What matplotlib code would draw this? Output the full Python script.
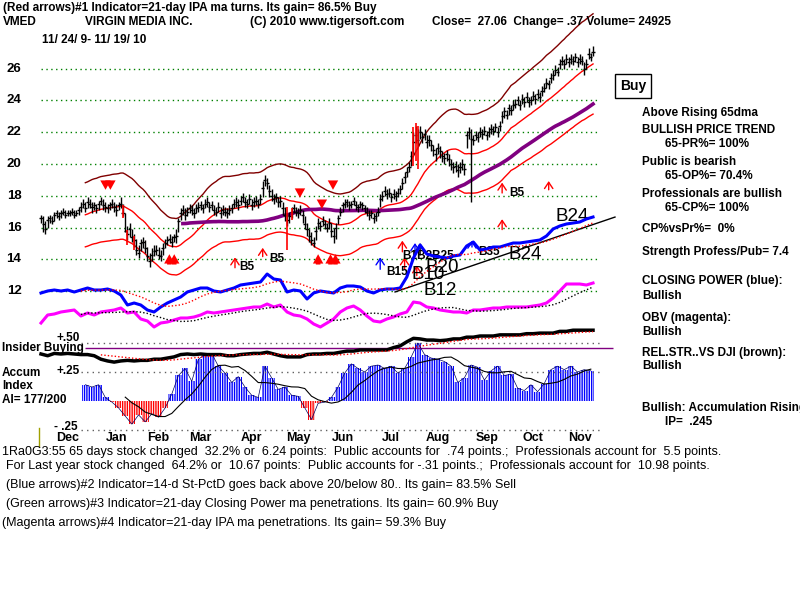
import matplotlib
matplotlib.use("Agg")
import matplotlib.pyplot as plt
import matplotlib.transforms as mtransforms
from matplotlib.lines import Line2D
import numpy as np
import pandas as pd

# ---- VMED daily bars 11/24/09 - 11/19/10 (250 trading days) ----
closes = [
    16.6, 16.2, 15.9, 16.5, 16.6, 16.4, 16.8, 16.9, 16.7, 16.9,
    17.0, 16.8, 16.9, 16.9, 17.0, 16.8, 16.9, 17.1, 17.3, 17.5,
    17.2, 17.6, 17.5, 17.3, 17.4, 17.2, 17.5, 17.7, 17.4, 17.3,
    17.2, 17.4, 17.5, 17.3, 17.1, 17.4, 17.5, 16.9, 15.8, 15.6,
    15.9, 15.4, 15.2, 14.6, 14.4, 15.0, 15.1, 14.7, 14.2, 13.9,
    14.3, 14.5, 14.6, 14.3, 14.2, 14.7, 15.0, 15.2, 15.3, 15.1,
    15.4, 15.5, 16.4, 16.9, 17.1, 16.8, 17.0, 17.2, 17.1, 16.9,
    17.2, 17.3, 17.4, 17.2, 17.5, 17.6, 17.3, 17.4, 17.1, 17.0,
    17.3, 16.9, 17.1, 17.0, 16.9, 17.1, 17.2, 17.5, 17.6, 17.4,
    17.7, 17.9, 17.6, 17.5, 17.8, 17.4, 17.6, 17.7, 17.5, 17.8,
    18.5, 19.0, 18.8, 18.3, 18.0, 17.8, 17.9, 17.6, 17.7, 17.2,
    16.8, 16.5, 16.7, 17.0, 17.2, 17.0, 16.9, 17.1, 16.8, 16.2,
    15.9, 15.5, 15.2, 15.0, 15.8, 16.3, 16.1, 16.4, 16.2, 16.0,
    16.3, 15.8, 15.5, 16.0, 16.6, 17.0, 17.4, 17.5, 17.6, 17.4,
    17.5, 17.7, 17.4, 17.3, 17.5, 17.4, 17.2, 17.0, 16.8, 16.9,
    16.6, 16.7, 17.0, 17.8, 18.0, 18.3, 18.1, 18.2, 17.9, 18.1,
    18.0, 18.2, 18.4, 18.8, 19.2, 19.5, 19.8, 20.5, 21.4, 21.8,
    21.5, 22.0, 21.7, 21.9, 21.4, 21.5, 21.2, 20.9, 20.6, 21.0,
    20.8, 20.5, 20.4, 20.6, 20.3, 20.0, 19.8, 19.9, 19.6, 19.8,
    20.0, 19.7, 21.8, 22.0, 21.6, 21.5, 21.8, 21.7, 22.0, 21.9,
    22.1, 21.8, 22.0, 22.2, 22.1, 22.3, 22.0, 22.4, 23.0, 23.3,
    23.1, 23.5, 23.4, 23.7, 23.8, 24.0, 23.7, 24.1, 23.9, 24.2,
    23.9, 24.0, 24.3, 24.1, 24.4, 24.2, 24.6, 24.8, 25.1, 25.0,
    25.4, 25.6, 25.9, 25.8, 26.3, 26.5, 26.3, 26.6, 26.4, 26.6,
    26.5, 26.7, 26.4, 26.6, 26.5, 26.0, 26.3, 26.9, 26.7, 27.06,
]
highs = [
    16.8, 16.7, 16.4, 16.7, 16.8, 16.7, 17.0, 17.1, 17.0, 17.1,
    17.2, 17.1, 17.1, 17.1, 17.2, 17.1, 17.1, 17.3, 17.6, 17.8,
    17.6, 17.9, 17.8, 17.6, 17.6, 17.5, 17.7, 17.9, 17.8, 17.6,
    17.5, 17.6, 17.8, 17.6, 17.5, 17.6, 17.9, 17.5, 16.9, 16.1,
    16.3, 15.9, 15.6, 15.3, 14.9, 15.3, 15.4, 15.2, 14.8, 14.4,
    14.7, 14.9, 14.9, 14.8, 14.6, 15.0, 15.3, 15.5, 15.6, 15.5,
    15.6, 15.9, 16.6, 17.2, 17.4, 17.2, 17.3, 17.5, 17.4, 17.2,
    17.5, 17.6, 17.7, 17.5, 17.8, 17.9, 17.6, 17.7, 17.4, 17.3,
    17.6, 17.3, 17.4, 17.3, 17.2, 17.4, 17.5, 17.8, 17.9, 17.8,
    18.0, 18.2, 17.9, 17.8, 18.1, 17.8, 17.9, 18.0, 17.8, 18.1,
    18.9, 19.3, 19.1, 18.7, 18.4, 18.1, 18.2, 17.9, 18.0, 17.6,
    17.3, 16.9, 17.0, 17.3, 17.5, 17.3, 17.2, 17.4, 17.1, 16.7,
    16.3, 15.9, 15.7, 15.4, 16.1, 16.6, 16.4, 16.7, 16.5, 16.3,
    16.6, 16.3, 16.0, 16.3, 16.8, 17.3, 17.6, 17.8, 17.8, 17.7,
    17.7, 17.9, 17.7, 17.5, 17.7, 17.6, 17.4, 17.3, 17.1, 17.1,
    16.9, 17.0, 17.3, 18.1, 18.3, 18.6, 18.4, 18.5, 18.2, 18.4,
    18.3, 18.5, 18.7, 19.1, 19.5, 19.8, 20.1, 20.8, 22.0, 22.4,
    22.2, 22.4, 22.0, 22.2, 21.8, 21.8, 21.5, 21.2, 21.0, 21.3,
    21.1, 20.8, 20.7, 20.9, 20.6, 20.3, 20.1, 20.2, 20.0, 20.1,
    20.3, 20.0, 22.1, 22.3, 22.2, 21.8, 22.1, 22.0, 22.3, 22.2,
    22.4, 22.1, 22.3, 22.5, 22.4, 22.6, 22.3, 22.7, 23.3, 23.6,
    23.4, 23.8, 23.7, 24.0, 24.1, 24.3, 24.0, 24.4, 24.2, 24.5,
    24.2, 24.3, 24.6, 24.4, 24.7, 24.5, 24.9, 25.1, 25.4, 25.3,
    25.7, 25.9, 26.2, 26.1, 26.6, 26.8, 26.6, 26.9, 26.7, 26.9,
    26.8, 27.0, 26.7, 26.9, 26.8, 26.4, 26.6, 27.3, 27.0, 27.4,
]
lows = [
    16.3, 15.7, 15.6, 16.0, 16.3, 16.2, 16.4, 16.6, 16.5, 16.6,
    16.8, 16.6, 16.7, 16.7, 16.8, 16.6, 16.7, 16.8, 17.0, 17.2,
    17.0, 17.2, 17.2, 16.9, 17.1, 16.9, 17.1, 17.4, 17.1, 17.0,
    16.9, 17.1, 17.2, 17.0, 16.7, 17.1, 17.2, 16.7, 15.7, 15.2,
    15.4, 15.1, 14.8, 14.3, 14.1, 14.5, 14.7, 14.4, 13.9, 13.5,
    13.9, 14.2, 14.3, 14.0, 13.9, 14.3, 14.7, 14.9, 15.0, 14.8,
    15.1, 15.0, 15.7, 16.5, 16.8, 16.5, 16.7, 16.9, 16.8, 16.6,
    16.9, 17.0, 17.1, 16.9, 17.2, 17.3, 17.0, 17.1, 16.8, 16.7,
    17.0, 16.6, 16.8, 16.7, 16.6, 16.8, 16.9, 17.2, 17.3, 17.1,
    17.4, 17.6, 17.3, 17.2, 17.5, 17.1, 17.3, 17.4, 17.2, 17.5,
    17.9, 18.6, 18.4, 17.9, 17.7, 17.5, 17.6, 17.3, 17.3, 16.8,
    16.4, 16.1, 16.3, 16.6, 16.9, 16.7, 16.6, 16.8, 16.3, 15.9,
    15.5, 15.1, 14.9, 14.8, 15.2, 15.9, 15.8, 16.1, 15.9, 15.7,
    15.9, 15.4, 15.0, 15.3, 16.2, 16.7, 17.0, 17.2, 17.3, 17.1,
    17.2, 17.4, 17.1, 17.0, 17.2, 17.1, 16.9, 16.7, 16.5, 16.6,
    16.3, 16.4, 16.7, 17.3, 17.7, 18.0, 17.8, 17.9, 17.6, 17.8,
    17.7, 17.9, 18.1, 18.4, 18.8, 19.2, 19.5, 19.9, 20.6, 21.3,
    21.1, 21.6, 21.3, 21.5, 21.0, 21.1, 20.8, 20.5, 20.2, 20.6,
    20.4, 20.1, 20.0, 20.2, 19.9, 19.6, 19.4, 19.5, 19.2, 19.4,
    19.6, 19.3, 21.0, 21.6, 17.6, 21.2, 21.5, 21.4, 21.7, 21.6,
    21.8, 21.5, 21.7, 21.9, 21.8, 22.0, 21.7, 22.1, 22.6, 22.9,
    22.8, 23.1, 23.1, 23.4, 23.5, 23.7, 23.4, 23.8, 23.6, 23.9,
    23.6, 23.7, 24.0, 23.8, 24.1, 23.9, 24.3, 24.5, 24.8, 24.7,
    25.1, 25.3, 25.6, 25.5, 26.0, 26.2, 26.0, 26.3, 26.1, 26.3,
    26.2, 26.4, 26.1, 26.3, 26.2, 25.6, 26.0, 26.6, 26.5, 26.8,
]

# indicators sampled every 3rd trading day (arbitrary units)
step = 3
cp_vals = [
    0.7, 0.9, 1.0, 0.9, 1.0, 0.8, 1.0, 1.2, 1.0, 1.0,
    1.1, 0.9, 0.5, -0.5, -0.3, -0.5, -1.0, -1.2, -0.7, -0.3,
    0.0, 0.3, 0.8, 1.0, 1.2, 1.2, 0.9, 0.8, 1.0, 1.2,
    1.5, 1.6, 1.7, 1.8, 2.6, 2.1, 2.0, 0.8, 1.0, 0.9,
    0.1, 0.7, 0.9, 0.8, 0.7, 1.2, 1.4, 1.4, 1.3, 0.9,
    0.7, 1.0, 1.1, 1.1, 1.2, 2.3, 4.2, 5.5, 4.6, 4.4,
    4.3, 4.2, 4.4, 4.5, 5.4, 5.8, 5.0, 5.1, 5.3, 5.3,
    5.5, 5.7, 5.7, 5.8, 5.9, 6.0, 6.4, 7.1, 7.4, 7.6,
    7.7, 7.8, 8.1, 8.3,
]
obv_vals = [
    1.7, 2.5, 2.6, 2.8, 2.9, 3.0, 2.4, 2.7, 2.5, 2.8,
    2.9, 3.0, 3.2, 2.7, 2.8, 2.1, 1.9, 1.3, 1.7, 1.8,
    2.0, 2.2, 2.2, 2.3, 2.5, 2.8, 2.7, 2.8, 2.9, 3.0,
    3.1, 3.2, 3.3, 3.3, 3.6, 3.3, 3.5, 2.8, 2.5, 2.4,
    2.1, 1.6, 1.3, 1.7, 2.1, 2.8, 3.2, 3.4, 3.0, 2.4,
    1.9, 1.8, 2.1, 2.3, 2.6, 2.8, 3.8, 3.7, 3.3, 3.2,
    3.0, 2.9, 2.8, 2.8, 2.7, 3.0, 3.0, 3.1, 3.2, 3.2,
    3.3, 3.3, 3.3, 3.3, 3.4, 3.5, 3.7, 4.2, 4.9, 5.6,
    5.6, 5.6, 5.5, 5.7,
]
insider_vals = [
    0.405, 0.39, 0.41, 0.405, 0.41, 0.405, 0.40, 0.40, 0.39, 0.36,
    0.345, 0.335, 0.345, 0.35, 0.345, 0.35, 0.35, 0.36, 0.36, 0.37,
    0.38, 0.40, 0.405, 0.40, 0.405, 0.40, 0.40, 0.40, 0.39, 0.39,
    0.40, 0.405, 0.41, 0.41, 0.42, 0.405, 0.39, 0.38, 0.38, 0.38,
    0.40, 0.405, 0.405, 0.41, 0.41, 0.42, 0.43, 0.43, 0.44, 0.44,
    0.44, 0.44, 0.44, 0.46, 0.475, 0.51, 0.54, 0.535, 0.525, 0.525,
    0.52, 0.525, 0.535, 0.535, 0.55, 0.55, 0.56, 0.56, 0.56, 0.57,
    0.57, 0.57, 0.57, 0.58, 0.58, 0.585, 0.585, 0.585, 0.60, 0.60,
    0.61, 0.61, 0.61, 0.61,
]
ai_start = 20
ai_vals = [
    0.14, 0.12, 0.14, 0.03, -0.01, -0.06, -0.13, -0.20, -0.12, -0.18,
    -0.11, -0.14, -0.06, 0.06, 0.22, 0.28, 0.17, 0.36, 0.40, 0.41,
    0.30, 0.24, 0.16, 0.21, 0.12, 0.05, 0.03, 0.30, 0.20, 0.10,
    0.12, 0.05, 0.04, -0.06, -0.16, -0.02, -0.01, 0.03, 0.12, 0.24,
    0.32, 0.28, 0.25, 0.30, 0.31, 0.28, 0.30, 0.24, 0.28, 0.38,
    0.50, 0.40, 0.37, 0.36, 0.34, 0.30, 0.16, 0.20, 0.31, 0.29,
    0.18, 0.26, 0.30, 0.22, 0.23, 0.11, 0.09, 0.14, 0.08, 0.15,
    0.27, 0.30, 0.27, 0.30, 0.25, 0.27, 0.26,
]

months = ["Dec", "Jan", "Feb", "Mar", "Apr", "May", "Jun", "Jul", "Aug", "Sep", "Oct", "Nov"]
month_start = [4, 26, 45, 64, 87, 108, 128, 150, 171, 193, 214, 235]
price_ticks = [26, 24, 22, 20, 18, 16, 14, 12]

# signals: (day, tip price, tail price)
red_up_thin = [(87.5, 14.3, 13.3), (100, 14.9, 14.0), (163, 15.35, 14.3), (164, 14.3, 13.2),
               (169.5, 13.8, 12.8), (208, 19.0, 18.0), (229, 19.1, 18.2), (208, 16.7, 15.7)]
blue_up = [(153, 14.3, 13.2), (168.7, 15.2, 14.15), (194.4, 15.35, 14.6)]
black_up = [(171, 15.2, 14.1)]
red_down_fat = [(30.2, 18.2, 19.0, 2), (116.8, 17.7, 18.6, 1), (126.7, 17.0, 17.9, 1), (131.7, 18.2, 19.1, 1)]
red_up_fat = [(59, 14.5, 13.5, 2), (125, 14.5, 13.5, 1), (131.7, 14.5, 13.5, 2)]
red_spikes = [(37, 17.4, 16.6), (39, 15.85, 14.9), (42, 15.5, 14.6), (111, 17.3, 14.6),
              (113, 17.2, 16.5), (168, 22.3, 19.9), (169, 22.6, 20.2), (170, 22.4, 19.7)]
big_labels = [("B24", 239.5, 16.67), ("B24", 218.3, 14.28), ("B20", 180.9, 13.52),
              ("B10", 174.6, 13.02), ("B12", 180, 12.07)]
small_labels = [("B5", 92.9, 13.52), ("B5", 106.4, 14.02), ("B5", 214.7, 18.18),
                ("B15", 160.6, 13.2), ("B35", 202, 14.47), ("B1B2B25", 174.6, 14.2)]
trend_x = [159.7, 258.9]
trend_y = [11.95, 16.66]

plt.rcParams['font.family'] = ['Liberation Sans', 'DejaVu Sans']
plt.rcParams['font.weight'] = 'bold'
plt.rcParams['hatch.linewidth'] = 1.0

fig = plt.figure(figsize=(8, 6), dpi=100)
fig.patch.set_facecolor('white')
XLIM = (-41 / 2.217, (800 - 41) / 2.217)


def layer(ylim):
    a = fig.add_axes([0, 0, 1, 1])
    a.set_xlim(*XLIM)
    a.set_ylim(*ylim)
    a.axis('off')
    a.patch.set_visible(False)
    return a


ax = layer((-7.42, 30.31))
ax_ai = layer((-1.716, 3.457))
ax_obv = layer((-26, 34))
ax_cp = layer((-30, 30))


def put(x, y, s, size=8.5, ha='left', **kw):
    fig.text(x / 800, 1 - y / 600, s, fontsize=size, ha=ha, va='center', **kw)


# ---- price panel ----
ax.hlines(price_ticks, 0, 252, colors='green', linestyles=(0, (1, 2.5)), lw=1)
ylab = mtransforms.blended_transform_factory(fig.transFigure, ax.transData)
for p in price_ticks:
    ax.text(14 / 800, p, str(p), transform=ylab, ha='center', va='center', fontsize=9.5)

days = np.arange(len(closes))
s = pd.Series(closes)
ma21 = s.rolling(21).mean()
ma65 = s.rolling(65).mean()
ax.plot(days, ma21 * 1.12, color='#800000', lw=1)
ax.plot(days, ma21, color='red', lw=1)
ax.plot(days, ma21 * 0.88, color='red', lw=1)
ax.plot(days, ma65, color='#800080', lw=2.6)

ax.vlines(days, lows, highs, color='black', lw=1)
ax.hlines(closes, days - 0.7, days + 0.7, color='black', lw=1)
for d, top, bot in red_spikes:
    ax.vlines(d, bot, top, color='red', lw=1.2)

thin = '->,head_length=0.45,head_width=0.3'
for d, tip, tail in red_up_thin:
    ax.annotate('', xy=(d, tip), xytext=(d, tail), arrowprops=dict(arrowstyle=thin, color='red', lw=1))
for d, tip, tail in blue_up:
    ax.annotate('', xy=(d, tip), xytext=(d, tail), arrowprops=dict(arrowstyle=thin, color='blue', lw=1))
for d, tip, tail in black_up:
    ax.annotate('', xy=(d, tip), xytext=(d, tail), arrowprops=dict(arrowstyle=thin, color='black', lw=1))
for d, tip, tail, n in red_down_fat + red_up_fat:
    offs = [0] if n == 1 else [-1.1, 1.1]
    for o in offs:
        ax.annotate('', xy=(d + o, tip), xytext=(d + o, tail),
                    arrowprops=dict(arrowstyle='simple,head_length=0.45,head_width=0.5,tail_width=0.22',
                                    color='red', lw=0, mutation_scale=15))

ax.plot(trend_x, trend_y, color='black', lw=1)
for t, d, p in big_labels:
    ax.text(d, p, t, fontsize=13.5, fontweight='normal', ha='center', va='center')
for t, d, p in small_labels:
    ax.text(d, p, t, fontsize=8.5, ha='center', va='center')

# ---- closing power / OBV ----
ind_x = step * np.arange(len(cp_vals))
ax_cp.plot(ind_x, cp_vals, color='blue', lw=2.2)
ax_cp.plot(ind_x, pd.Series(cp_vals).rolling(7).mean(), color='red', lw=1, ls=(0, (1, 1.5)))
ax_obv.plot(ind_x, obv_vals, color='magenta', lw=2.2)
ax_obv.plot(ind_x, pd.Series(obv_vals).rolling(7).mean(), color='black', lw=1, ls=(0, (1, 1.5)))

# ---- accumulation index / insider buying ----
ax_ai.hlines([0.5, 0.25, -0.25], 18, 252, colors='#606060', linestyles=(0, (1, 3)), lw=1)
ax_ai.hlines(0.46, 20, 258, colors='#800080', lw=1)
ai_x = ai_start + step * np.arange(len(ai_vals))
ai_col = ['blue' if v >= 0 else 'red' for v in ai_vals]
ax_ai.bar(ai_x, ai_vals, width=step, color='none', edgecolor=ai_col, hatch='|||||||', lw=0)
ax_ai.plot(ai_x, ai_vals, color='#000060', lw=0.5)
ax_ai.plot(ai_x, pd.Series(ai_vals).rolling(7).mean(), color='black', lw=0.8)
ax_ai.plot(ind_x, insider_vals, color='black', lw=2.5)
ax_ai.plot(ind_x, pd.Series(insider_vals).rolling(10).mean(), color='red', lw=1, ls=(0, (1, 1.5)))

mtr = mtransforms.blended_transform_factory(ax.transData, fig.transFigure)
for m, st in zip(months, month_start):
    ax.text(st + 8, 1 - 438 / 600, m, transform=mtr, ha='center', va='center', fontsize=9)
fig.add_artist(Line2D([39 / 800, 39 / 800], [1 - 428 / 600, 1 - 446 / 600], color='#a0a000', lw=1))

# ---- texts ----
put(3, 8, "(Red arrows)#1 Indicator=21-day IPA ma turns. Its gain= 86.5% Buy")
put(3, 22, "VMED")
put(85, 22, "VIRGIN MEDIA INC.")
put(250, 22, "(C) 2010 www.tigersoft.com")
put(432, 22, "Close=  27.06  Change= .37 Volume= 24925")
put(42, 40, "11/ 24/ 9- 11/ 19/ 10")

put(633, 86, "Buy", size=10, ha='center',
    bbox=dict(boxstyle='square,pad=0.35', fc='white', ec='black', lw=1))
right_text = [(642, 113, "Above Rising 65dma"), (642, 130, "BULLISH PRICE TREND"),
              (665, 144, "65-PR%= 100%"), (642, 162, "Public is bearish"),
              (665, 176, "65-OP%= 70.4%"), (642, 194, "Professionals are bullish"),
              (665, 208, "65-CP%= 100%"), (642, 229, "CP%vsPr%=  0%"),
              (642, 252, "Strength Profess/Pub= 7.4"), (642, 281, "CLOSING POWER (blue):"),
              (642, 296, "Bullish"), (642, 318, "OBV (magenta):"), (642, 332, "Bullish"),
              (642, 353, "REL.STR..VS DJI (brown):"), (642, 366, "Bullish"),
              (642, 408, "Bullish: Accumulation Rising"), (665, 422, "IP=  .245")]
for x, y, t in right_text:
    put(x, y, t)

put(80, 338, "+.50", ha='right')
put(2, 348, "Insider Buying")
put(80, 371, "+.25", ha='right')
put(2, 373, "Accum")
put(2, 386, "Index")
put(2, 400, "AI= 177/200")
put(78, 427, "- .25", ha='right')

bottom = [(2, 452, "1Ra0G3:55 65 days stock changed  32.2% or  6.24 points:  Public accounts for  .74 points.;  Professionals account for  5.5 points."),
          (6, 466, "For Last year stock changed  64.2% or  10.67 points:  Public accounts for -.31 points.;  Professionals account for  10.98 points."),
          (6, 485, "(Blue arrows)#2 Indicator=14-d St-PctD goes back above 20/below 80.. Its gain= 83.5% Sell"),
          (6, 504, "(Green arrows)#3 Indicator=21-day Closing Power ma penetrations. Its gain= 60.9% Buy"),
          (2, 523, "(Magenta arrows)#4 Indicator=21-day IPA ma penetrations. Its gain= 59.3% Buy")]
for x, y, t in bottom:
    put(x, y, t, size=9, fontweight='normal')

fig.savefig('out.png', dpi=100)
